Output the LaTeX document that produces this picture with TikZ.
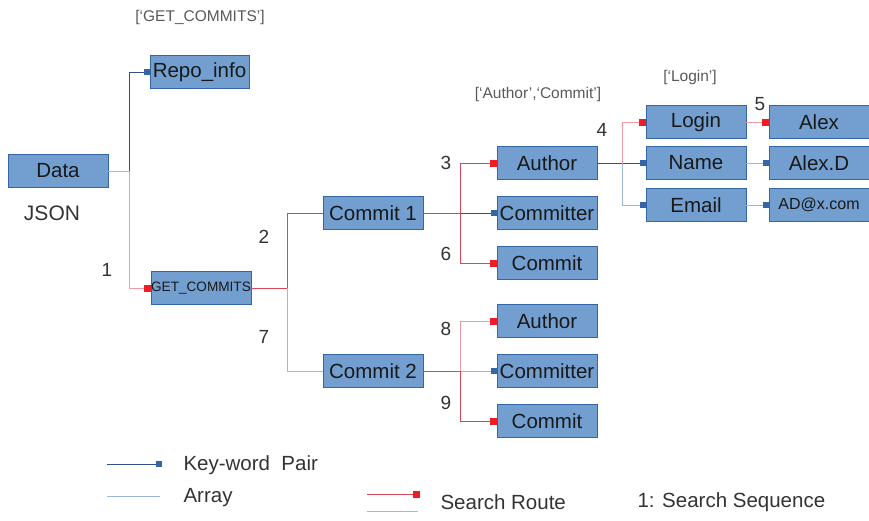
\documentclass[tikz,border=0pt]{standalone}
\usepackage{fontspec}
\setmainfont{Liberation Sans}
\usetikzlibrary{arrows.meta}
\definecolor{boxfill}{HTML}{729FCF}
\definecolor{boxedge}{HTML}{3465A4}
\definecolor{kwblue}{HTML}{34508C}
\definecolor{arrblue}{HTML}{9DB5DA}
\definecolor{mkblue}{HTML}{3465A4}
\definecolor{srred}{HTML}{D9465A}
\definecolor{srpink}{HTML}{F29AA4}
\definecolor{mkred}{HTML}{EE1C24}
\definecolor{txtgray}{HTML}{333333}
\tikzset{
  box/.style={draw=boxedge, line width=0.6pt, fill=boxfill, minimum width=100pt,
    minimum height=33pt, inner sep=0pt, text=black!90,
    font=\fontsize{20.5}{23}\selectfont},
  kw/.style={draw=kwblue, line width=0.9pt},
  arr/.style={draw=arrblue, line width=0.9pt},
  sr/.style={draw=srred, line width=0.9pt},
  srp/.style={draw=srpink, line width=0.9pt},
  tipb/.style={-{Square[length=6pt,width=6pt,color=mkblue]}},
  tipr/.style={-{Square[length=7pt,width=7pt,color=mkred]}},
  num/.style={font=\fontsize{19}{21}\selectfont, text=txtgray},
  tag/.style={font=\fontsize{15.5}{17}\selectfont, text=black!65},
  leg/.style={font=\fontsize{20.5}{23}\selectfont, text=txtgray, anchor=west},
}
\begin{document}
\begin{tikzpicture}[x=1pt, y=-1pt]
\useasboundingbox (0,0) rectangle (869,520);

% boxes
\node[box] (data) at (58,171) {Data};
\node[box, minimum width=99pt] (repo) at (199.5,72) {Repo\_info};
\node[box, font=\fontsize{13.6}{15}\selectfont] (gc) at (201,288) {GET\_COMMITS};
\node[box] (c1) at (373,213) {Commit 1};
\node[box] (c2) at (373,371) {Commit 2};
\node[box] (au1) at (547,163) {Author};
\node[box] (cr1) at (547,213) {Committer};
\node[box] (cm1) at (547,263) {Commit};
\node[box] (au2) at (547,321) {Author};
\node[box] (cr2) at (547,371) {Committer};
\node[box] (cm2) at (547,421) {Commit};
\node[box] (login) at (696,122) {Login};
\node[box] (name) at (696,163) {Name};
\node[box] (email) at (696,205) {Email};
\node[box] (alex) at (819,122) {Alex};
\node[box] (alexd) at (819,163) {Alex.D};
\node[box, font=\fontsize{16}{18}\selectfont] (adx) at (819,205) {AD@x.com};

% junction points
\coordinate (jd) at ([xshift=21pt]data.east);
\coordinate (jg) at ([xshift=36pt]gc.east);
\coordinate (j1) at ([xshift=37pt]c1.east);
\coordinate (j2) at ([xshift=37pt]c2.east);
\coordinate (ja) at ([xshift=25pt]au1.east);

% Data level
\draw[kw, tipb] (jd) |- (repo.west);
\draw[srp] (data.east) -- (jd);
\draw[srp, tipr] (jd) |- (gc.west);

% GET_COMMITS level
\draw[sr] (gc.east) -- (jg);
\draw[sr] (jg) |- (c1.west);
\draw[srp] (jg) |- (c2.west);

% Commit 1 level
\draw[sr] (c1.east) -- (j1);
\draw[kw, tipb] (j1) -- (cr1.west);
\draw[sr, tipr] (j1) |- (au1.west);
\draw[sr, tipr] (j1) |- (cm1.west);

% Commit 2 level
\draw[arr, tipb] (j2) -- (cr2.west);
\draw[sr] (c2.east) -- (j2);
\draw[srp, tipr] (j2) |- (au2.west);
\draw[sr, tipr] (j2) |- (cm2.west);

% Author level
\draw[kw] (au1.east) -- (ja);
\draw[kw, tipb] (ja) -- (name.west);
\draw[arr, tipb] (ja) |- (email.west);
\draw[srp, tipr] (ja) |- (login.west);

% values
\draw[srp, tipr] (login.east) -- (alex.west);
\draw[arr, tipb] (name.east) -- (alexd.west);
\draw[arr, tipb] (email.east) -- (adx.west);

% key-list tags
\node[tag] (t1) at (200,17) {[‘GET\_COMMITS’]};
\node[tag] (t2) at (538,94) {[‘Author’,‘Commit’]};
\node[tag] (t3) at (690,77) {[‘Login’]};
\node[font=\fontsize{21}{23}\selectfont, text=txtgray] (json) at (52,213) {JSON};

% search sequence numbers
\node[num] (n1) at (107,270) {1};
\node[num] (n2) at (264,237) {2};
\node[num] (n3) at (446,163) {3};
\node[num] (n4) at (602,130) {4};
\node[num] (n5) at (760,104) {5};
\node[num] (n6) at (446,254) {6};
\node[num] (n7) at (264,337) {7};
\node[num] (n8) at (446,329) {8};
\node[num] (n9) at (446,403) {9};

% legend
\coordinate (l1a) at (107,464); \coordinate (l1b) at (162,464);
\coordinate (l2a) at (107,496); \coordinate (l2b) at (160,496);
\coordinate (l3a) at (367,494); \coordinate (l3b) at (420,494);
\coordinate (l4a) at (367,511); \coordinate (l4b) at (418,511);
\draw[kw, tipb] (l1a) -- (l1b);
\draw[arr] (l2a) -- (l2b);
\draw[sr, tipr] (l3a) -- (l3b);
\draw[srp] (l4a) -- (l4b);
\node[leg] (lk) at (180,465) {Key-word\ \ Pair};
\node[leg] (la) at (180,498) {Array};
\node[leg] (ls) at (437,502) {Search Route};
\node[leg] (lq) at (634,502) {1: Search Sequence};
\end{tikzpicture}
\end{document}
